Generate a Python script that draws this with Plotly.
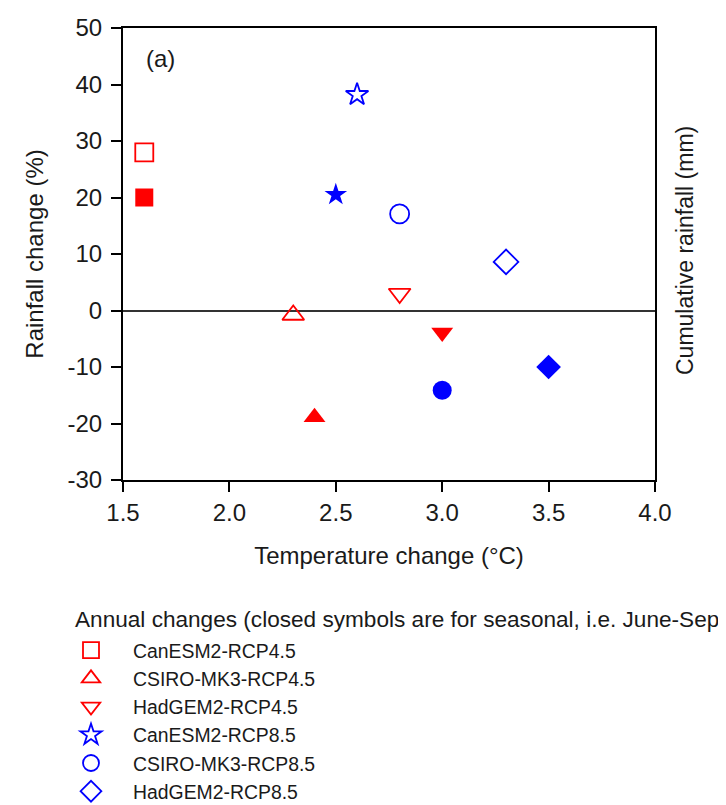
import plotly.graph_objects as go

# ---- data ----
models = ["CanESM2-RCP4.5", "CSIRO-MK3-RCP4.5", "HadGEM2-RCP4.5",
          "CanESM2-RCP8.5", "CSIRO-MK3-RCP8.5", "HadGEM2-RCP8.5"]
annual_temp = [1.6, 2.3, 2.8, 2.6, 2.8, 3.3]
annual_rain = [28.0, -0.8, 3.0, 38.2, 17.1, 8.6]
seasonal_temp = [1.6, 2.4, 3.0, 2.5, 3.0, 3.5]
seasonal_rain = [20.0, -18.9, -3.9, 20.5, -14.1, -10.0]
symbols = ["square", "triangle-up", "triangle-down", "star", "circle", "diamond"]
colors = ["#ff0000", "#ff0000", "#ff0000", "#0000ff", "#0000ff", "#0000ff"]
sizes = [18, 19, 19, 17, 19, 19]

x_ticks = [1.5, 2.0, 2.5, 3.0, 3.5, 4.0]
y_ticks = [-30, -20, -10, 0, 10, 20, 30, 40, 50]
neighbor_labels = ["1000", "800", "600", "400", "200"]
neighbor_label_y = [17, 110, 200, 292, 383]

FONT = "Liberation Sans, Arial, sans-serif"
TXT = "#1a1a1a"
W, H = 726, 805
L, R, T, B = 115, 79, 20, 333
PW, PH = W - L - R, H - T - B


def px_x(x):
    return (x - L) / PW


def px_y(y):
    return 1 - (y - T) / PH


fig = go.Figure()

for i, m in enumerate(models):
    fig.add_trace(go.Scatter(
        x=[annual_temp[i]], y=[annual_rain[i]], mode="markers", name=m,
        marker=dict(symbol=symbols[i] + "-open", size=sizes[i], color=colors[i],
                    line=dict(width=1.8, color=colors[i])),
        showlegend=True))
for i, m in enumerate(models):
    fig.add_trace(go.Scatter(
        x=[seasonal_temp[i]], y=[seasonal_rain[i]], mode="markers", name=m + " (JJAS)",
        marker=dict(symbol=symbols[i], size=sizes[i], color=colors[i],
                    line=dict(width=0)),
        showlegend=False))

axis_common = dict(showgrid=False, showline=True, linecolor="black", linewidth=2,
                   mirror=True, ticks="outside", ticklen=10, tickwidth=2,
                   tickcolor="black", tickfont=dict(size=24, color=TXT, family=FONT))

fig.update_xaxes(range=[1.5, 4.0], tickvals=x_ticks, ticktext=[f"{v:.1f}" for v in x_ticks],
                 zeroline=False, ticklabelstandoff=0,
                 title=dict(text="Temperature change (°C)", font=dict(size=24, color=TXT, family=FONT),
                            standoff=22),
                 **axis_common)
fig.update_yaxes(range=[-30, 50], tickvals=y_ticks, ticktext=[str(v) for v in y_ticks],
                 zeroline=True, zerolinecolor="#333", zerolinewidth=2, ticklabelstandoff=4,
                 title=dict(text="Rainfall change (%)", font=dict(size=24, color=TXT, family=FONT),
                            standoff=17),
                 **axis_common)

annotations = [
    dict(text="(a)", x=px_x(152), y=px_y(50), xref="paper", yref="paper",
         xanchor="center", yanchor="middle", showarrow=False,
         font=dict(size=24, color=TXT, family=FONT)),
    dict(text="Annual changes (closed symbols are for seasonal, i.e. June-September)",
         x=px_x(65), y=px_y(611), xref="paper", yref="paper",
         xanchor="left", yanchor="middle", showarrow=False,
         font=dict(size=22.6, color=TXT, family=FONT)),
    dict(text="Cumulative rainfall (mm)", textangle=-90,
         x=px_x(677), y=px_y(243), xref="paper", yref="paper",
         xanchor="center", yanchor="middle", showarrow=False,
         font=dict(size=23, color=TXT, family=FONT)),
]
for lab, yy in zip(neighbor_labels, neighbor_label_y):
    xx = 717 if len(lab) == 4 else 722
    annotations.append(dict(text=lab, x=px_x(xx), y=px_y(yy),
                            xref="paper", yref="paper", xanchor="left", yanchor="middle",
                            showarrow=False, font=dict(size=22, color=TXT, family=FONT)))

fig.update_layout(
    width=W, height=H,
    margin=dict(l=L, r=R, t=T, b=B, autoexpand=False),
    paper_bgcolor="white", plot_bgcolor="white",
    font=dict(family=FONT, color=TXT),
    showlegend=True,
    legend=dict(x=px_x(41), y=px_y(623), xanchor="left", yanchor="top",
                bgcolor="rgba(0,0,0,0)",
                font=dict(size=19.4, color=TXT, family=FONT),
                itemwidth=74, tracegroupgap=0, traceorder="normal"),
    annotations=annotations,
)

fig.write_html("out.html")
